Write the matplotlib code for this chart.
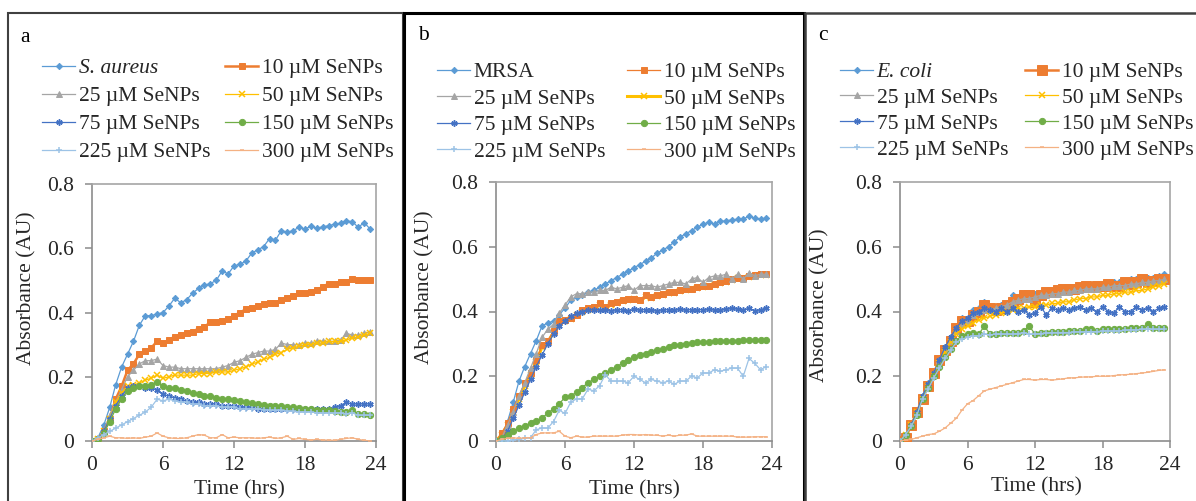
import numpy as np
import matplotlib
matplotlib.use("Agg")
import matplotlib.pyplot as plt
from matplotlib.patches import Rectangle

plt.rcParams["font.family"] = ["Liberation Serif", "DejaVu Serif"]
FS = 15.5
W, H = 1196, 501

# sampling every 30 min, 0 .. 23.5 h
hours = np.arange(48) * 0.5

conc_labels = ["10 µM SeNPs", "25 µM SeNPs", "50 µM SeNPs", "75 µM SeNPs",
               "150 µM SeNPs", "225 µM SeNPs", "300 µM SeNPs"]

# ---- panel a: S. aureus ----
a_ctrl = [0, 0.01, 0.05, 0.105, 0.175, 0.23, 0.27, 0.31, 0.36, 0.39, 0.39, 0.395,
          0.40, 0.42, 0.445, 0.43, 0.44, 0.46, 0.475, 0.485, 0.49, 0.50, 0.53, 0.52,
          0.545, 0.55, 0.56, 0.585, 0.595, 0.605, 0.63, 0.625, 0.655, 0.65, 0.655, 0.665,
          0.66, 0.668, 0.662, 0.667, 0.67, 0.675, 0.678, 0.685, 0.683, 0.665, 0.68, 0.66]
a_10 = [0, 0.005, 0.03, 0.07, 0.13, 0.17, 0.22, 0.24, 0.27, 0.28, 0.29, 0.31,
        0.305, 0.315, 0.325, 0.33, 0.335, 0.34, 0.35, 0.355, 0.37, 0.37, 0.375, 0.38,
        0.39, 0.40, 0.41, 0.415, 0.42, 0.425, 0.43, 0.43, 0.44, 0.445, 0.45, 0.46,
        0.46, 0.465, 0.47, 0.48, 0.49, 0.49, 0.495, 0.495, 0.505, 0.50, 0.50, 0.50]
a_25 = [0, 0.005, 0.03, 0.08, 0.12, 0.16, 0.20, 0.22, 0.24, 0.25, 0.25, 0.255,
        0.235, 0.23, 0.23, 0.225, 0.225, 0.225, 0.225, 0.225, 0.225, 0.225, 0.23, 0.235,
        0.245, 0.25, 0.26, 0.27, 0.275, 0.28, 0.28, 0.285, 0.305, 0.30, 0.30, 0.30,
        0.305, 0.305, 0.31, 0.31, 0.31, 0.31, 0.315, 0.335, 0.33, 0.33, 0.335, 0.34]
a_50 = [0, 0.005, 0.03, 0.07, 0.12, 0.15, 0.17, 0.175, 0.18, 0.19, 0.195, 0.205,
        0.195, 0.20, 0.205, 0.205, 0.205, 0.205, 0.21, 0.21, 0.21, 0.215, 0.215, 0.215,
        0.22, 0.225, 0.23, 0.24, 0.245, 0.255, 0.26, 0.27, 0.275, 0.285, 0.29, 0.295,
        0.30, 0.30, 0.305, 0.305, 0.31, 0.31, 0.31, 0.315, 0.32, 0.325, 0.33, 0.335]
a_75 = [0, 0.005, 0.03, 0.07, 0.11, 0.14, 0.165, 0.17, 0.17, 0.165, 0.165, 0.16,
        0.145, 0.14, 0.135, 0.13, 0.125, 0.12, 0.12, 0.115, 0.115, 0.115, 0.11, 0.11,
        0.11, 0.105, 0.105, 0.105, 0.10, 0.10, 0.10, 0.10, 0.10, 0.10, 0.10, 0.10,
        0.10, 0.10, 0.10, 0.10, 0.10, 0.105, 0.11, 0.12, 0.115, 0.115, 0.115, 0.115]
a_150 = [0, 0.005, 0.025, 0.06, 0.10, 0.13, 0.155, 0.165, 0.17, 0.17, 0.175, 0.185,
         0.17, 0.165, 0.165, 0.16, 0.155, 0.15, 0.145, 0.14, 0.14, 0.135, 0.13, 0.13,
         0.128, 0.125, 0.12, 0.118, 0.115, 0.112, 0.11, 0.11, 0.108, 0.105, 0.105, 0.102,
         0.10, 0.10, 0.098, 0.095, 0.095, 0.093, 0.09, 0.09, 0.095, 0.085, 0.083, 0.082]
a_225 = [0, 0.01, 0.02, 0.03, 0.04, 0.05, 0.06, 0.07, 0.08, 0.09, 0.105, 0.13,
         0.125, 0.13, 0.125, 0.12, 0.12, 0.115, 0.115, 0.11, 0.11, 0.11, 0.105, 0.105,
         0.105, 0.10, 0.10, 0.10, 0.10, 0.098, 0.095, 0.095, 0.095, 0.093, 0.092, 0.09,
         0.09, 0.09, 0.088, 0.087, 0.087, 0.087, 0.087, 0.085, 0.088, 0.08, 0.08, 0.08]
a_300 = [0, 0.005, 0.01, 0.015, 0.01, 0.01, 0.008, 0.01, 0.008, 0.012, 0.015, 0.025,
         0.015, 0.01, 0.008, 0.008, 0.01, 0.015, 0.02, 0.018, 0.01, 0.01, 0.02, 0.01,
         0.012, 0.01, 0.01, 0.01, 0.008, 0.01, 0.012, 0.008, 0.01, 0.015, 0.005, 0.008,
         0.005, 0.003, 0.005, 0.003, 0.003, 0.002, 0.005, 0.008, 0.01, 0.005, 0.002, 0.0]

# ---- panel b: MRSA ----
b_ctrl = [0, 0.01, 0.06, 0.12, 0.185, 0.23, 0.27, 0.31, 0.355, 0.365, 0.37, 0.39,
          0.41, 0.435, 0.445, 0.45, 0.46, 0.465, 0.475, 0.485, 0.495, 0.505, 0.515, 0.525,
          0.535, 0.545, 0.555, 0.565, 0.58, 0.59, 0.60, 0.615, 0.63, 0.64, 0.65, 0.66,
          0.67, 0.675, 0.67, 0.678, 0.68, 0.683, 0.685, 0.685, 0.695, 0.688, 0.685, 0.688]
b_10 = [0, 0.025, 0.055, 0.10, 0.14, 0.18, 0.21, 0.25, 0.295, 0.31, 0.34, 0.37,
        0.375, 0.38, 0.39, 0.405, 0.41, 0.415, 0.425, 0.415, 0.425, 0.43, 0.435, 0.44,
        0.44, 0.435, 0.45, 0.445, 0.45, 0.455, 0.46, 0.46, 0.465, 0.47, 0.47, 0.475,
        0.478, 0.48, 0.485, 0.49, 0.495, 0.50, 0.505, 0.505, 0.51, 0.512, 0.515, 0.515]
b_25 = [0, 0.01, 0.05, 0.09, 0.14, 0.18, 0.225, 0.27, 0.32, 0.345, 0.36, 0.395,
        0.42, 0.445, 0.455, 0.455, 0.46, 0.46, 0.465, 0.465, 0.475, 0.47, 0.475, 0.48,
        0.465, 0.48, 0.48, 0.48, 0.475, 0.48, 0.485, 0.49, 0.49, 0.485, 0.50, 0.505,
        0.49, 0.505, 0.51, 0.51, 0.515, 0.50, 0.515, 0.50, 0.52, 0.51, 0.515, 0.515]
b_50 = [0, 0.02, 0.05, 0.09, 0.13, 0.17, 0.205, 0.245, 0.29, 0.305, 0.335, 0.365,
        0.37, 0.378, 0.388, 0.40, 0.405, 0.41, 0.42, 0.413, 0.42, 0.427, 0.432, 0.437,
        0.438, 0.435, 0.445, 0.443, 0.448, 0.452, 0.457, 0.458, 0.462, 0.467, 0.468, 0.472,
        0.475, 0.478, 0.482, 0.487, 0.492, 0.497, 0.502, 0.503, 0.507, 0.51, 0.512, 0.513]
b_75 = [0, 0.005, 0.03, 0.07, 0.11, 0.15, 0.19, 0.23, 0.265, 0.30, 0.33, 0.355,
        0.37, 0.385, 0.395, 0.40, 0.405, 0.405, 0.405, 0.405, 0.403, 0.405, 0.405, 0.403,
        0.407, 0.405, 0.405, 0.405, 0.403, 0.405, 0.405, 0.405, 0.407, 0.405, 0.405, 0.405,
        0.405, 0.407, 0.405, 0.405, 0.408, 0.41, 0.408, 0.405, 0.41, 0.403, 0.405, 0.41]
b_150 = [0, 0.008, 0.018, 0.03, 0.04, 0.047, 0.055, 0.062, 0.072, 0.085, 0.10, 0.115,
         0.135, 0.14, 0.15, 0.165, 0.18, 0.19, 0.20, 0.21, 0.22, 0.23, 0.24, 0.25,
         0.26, 0.265, 0.27, 0.275, 0.28, 0.285, 0.29, 0.295, 0.298, 0.30, 0.302, 0.305,
         0.305, 0.307, 0.308, 0.308, 0.31, 0.31, 0.31, 0.312, 0.313, 0.312, 0.313, 0.313]
b_225 = [0, 0, 0, 0.003, 0.005, 0.008, 0.01, 0.035, 0.04, 0.04, 0.06, 0.095,
         0.085, 0.12, 0.13, 0.13, 0.16, 0.155, 0.17, 0.205, 0.185, 0.185, 0.185, 0.18,
         0.20, 0.19, 0.18, 0.19, 0.185, 0.18, 0.185, 0.175, 0.185, 0.185, 0.20, 0.195,
         0.21, 0.21, 0.22, 0.215, 0.22, 0.225, 0.225, 0.20, 0.255, 0.24, 0.22, 0.23]
b_300 = [0, 0.005, 0.008, 0.01, 0.008, 0.01, 0.01, 0.02, 0.025, 0.025, 0.025, 0.03,
         0.015, 0.01, 0.015, 0.012, 0.012, 0.015, 0.015, 0.015, 0.015, 0.015, 0.018, 0.02,
         0.02, 0.018, 0.02, 0.018, 0.018, 0.015, 0.018, 0.015, 0.018, 0.018, 0.022, 0.015,
         0.015, 0.015, 0.015, 0.015, 0.015, 0.015, 0.012, 0.012, 0.012, 0.013, 0.013, 0.013]

# ---- panel c: E. coli ----
c_ctrl = [0, 0.02, 0.05, 0.09, 0.14, 0.18, 0.21, 0.25, 0.29, 0.32, 0.35, 0.38,
          0.375, 0.405, 0.41, 0.43, 0.41, 0.41, 0.42, 0.425, 0.45, 0.44, 0.445, 0.45,
          0.455, 0.455, 0.46, 0.46, 0.465, 0.465, 0.47, 0.47, 0.475, 0.475, 0.48, 0.48,
          0.48, 0.485, 0.49, 0.49, 0.495, 0.50, 0.50, 0.50, 0.505, 0.505, 0.51, 0.515]
c_10 = [0, 0.01, 0.05, 0.09, 0.13, 0.17, 0.21, 0.25, 0.28, 0.31, 0.35, 0.37,
        0.37, 0.39, 0.40, 0.42, 0.41, 0.405, 0.41, 0.42, 0.43, 0.44, 0.45, 0.45,
        0.43, 0.45, 0.46, 0.46, 0.465, 0.47, 0.47, 0.47, 0.475, 0.48, 0.475, 0.48,
        0.48, 0.485, 0.48, 0.48, 0.49, 0.485, 0.49, 0.50, 0.49, 0.495, 0.50, 0.50]
c_25 = [0, 0.02, 0.05, 0.09, 0.14, 0.175, 0.21, 0.25, 0.285, 0.31, 0.34, 0.36,
        0.37, 0.39, 0.40, 0.405, 0.405, 0.41, 0.415, 0.42, 0.43, 0.435, 0.44, 0.44,
        0.445, 0.45, 0.45, 0.455, 0.455, 0.46, 0.46, 0.465, 0.465, 0.47, 0.47, 0.47,
        0.475, 0.475, 0.48, 0.48, 0.48, 0.485, 0.485, 0.49, 0.49, 0.495, 0.495, 0.50]
c_50 = [0, 0.02, 0.05, 0.09, 0.13, 0.17, 0.205, 0.24, 0.275, 0.305, 0.33, 0.345,
        0.355, 0.365, 0.375, 0.38, 0.385, 0.39, 0.395, 0.40, 0.405, 0.41, 0.41, 0.415,
        0.415, 0.42, 0.42, 0.425, 0.425, 0.43, 0.43, 0.435, 0.44, 0.44, 0.445, 0.445,
        0.45, 0.45, 0.455, 0.455, 0.46, 0.46, 0.465, 0.465, 0.47, 0.475, 0.48, 0.485]
c_75 = [0, 0.02, 0.05, 0.09, 0.14, 0.175, 0.21, 0.25, 0.29, 0.32, 0.35, 0.37,
        0.38, 0.395, 0.40, 0.41, 0.405, 0.40, 0.41, 0.40, 0.41, 0.40, 0.405, 0.39,
        0.395, 0.415, 0.39, 0.41, 0.405, 0.41, 0.405, 0.41, 0.415, 0.405, 0.41, 0.40,
        0.415, 0.40, 0.395, 0.415, 0.40, 0.40, 0.415, 0.405, 0.41, 0.40, 0.41, 0.415]
c_150 = [0, 0.02, 0.045, 0.08, 0.13, 0.165, 0.20, 0.23, 0.26, 0.285, 0.31, 0.325,
         0.33, 0.335, 0.33, 0.355, 0.33, 0.33, 0.335, 0.335, 0.335, 0.335, 0.34, 0.355,
         0.33, 0.335, 0.335, 0.338, 0.338, 0.338, 0.34, 0.34, 0.34, 0.345, 0.345, 0.34,
         0.345, 0.345, 0.345, 0.345, 0.345, 0.35, 0.35, 0.35, 0.36, 0.35, 0.35, 0.35]
c_225 = [0, 0.02, 0.045, 0.08, 0.13, 0.16, 0.195, 0.225, 0.255, 0.28, 0.305, 0.315,
         0.32, 0.325, 0.325, 0.33, 0.328, 0.33, 0.33, 0.33, 0.33, 0.332, 0.335, 0.33,
         0.33, 0.332, 0.333, 0.335, 0.335, 0.335, 0.335, 0.337, 0.337, 0.338, 0.338, 0.338,
         0.34, 0.34, 0.34, 0.34, 0.342, 0.343, 0.343, 0.345, 0.345, 0.345, 0.345, 0.345]
c_300 = [0, 0.002, 0.005, 0.01, 0.015, 0.02, 0.022, 0.03, 0.04, 0.055, 0.07, 0.095,
         0.115, 0.125, 0.14, 0.155, 0.16, 0.165, 0.17, 0.175, 0.18, 0.185, 0.19, 0.19,
         0.188, 0.19, 0.19, 0.188, 0.19, 0.192, 0.195, 0.195, 0.197, 0.198, 0.198, 0.20,
         0.20, 0.20, 0.202, 0.204, 0.205, 0.206, 0.208, 0.21, 0.212, 0.215, 0.218, 0.22]

colors = ["#5b9bd5", "#ed7d31", "#a5a5a5", "#ffc000",
          "#4472c4", "#70ad47", "#9dc3e6", "#f4b183"]
markers = ["D", "s", "^", "x", (6, 2, 0), "o", "+", "_"]
msizes = [3.2, 4.5, 4.5, 4, 4.5, 4.5, 4.5, 3.5]

panels = [
    dict(letter="a", ctrl="S. aureus",
         series=[a_ctrl, a_10, a_25, a_50, a_75, a_150, a_225, a_300],
         ax=(92, 376, 184, 441), frame=(8, 403, "#404040", 1.5),
         leg=(42, 225, 58, 0.37), ylab=(27, 288), xlab=(239, 490), let=(25, 38)),
    dict(letter="b", ctrl="MRSA",
         series=[b_ctrl, b_10, b_25, b_50, b_75, b_150, b_225, b_300],
         ax=(496, 772, 182, 441), frame=(404, 804, "black", 2.2),
         leg=(437, 627, 62, 0.3), ylab=(425, 287), xlab=(634, 490), let=(423, 35)),
    dict(letter="c", ctrl="E. coli",
         series=[c_ctrl, c_10, c_25, c_50, c_75, c_150, c_225, c_300],
         ax=(900, 1170, 182, 441), frame=(805, 1200, "#404040", 1.8),
         leg=(840, 1025, 62, 0.27), ylab=(820, 305), xlab=(1036, 487), let=(823, 35)),
]

fig = plt.figure(figsize=(W / 100, H / 100), dpi=100)

for p in panels:
    x0, x1, y0, y1 = p["ax"]
    ax = fig.add_axes([x0 / W, 1 - y1 / H, (x1 - x0) / W, (y1 - y0) / H])

    fl, fr, fc, fw = p["frame"]
    fig.add_artist(Rectangle((fl / W, -0.05), (fr - fl) / W, 1.05 - 13 / H,
                             transform=fig.transFigure, fill=False,
                             edgecolor=fc, linewidth=fw, clip_on=False))

    labels = [p["ctrl"]] + conc_labels
    handles = []
    for i, vals in enumerate(p["series"]):
        lw, ms, z = 0.9, msizes[i], 2 + i
        if i == 1 and p["letter"] in ("a", "c"):
            lw = 1.8
        if i == 1 and p["letter"] == "c":
            ms = 6.5
        if i == 3 and p["letter"] == "b":
            lw, z = 2.2, 1.5
        mew = 1.1 if markers[i] in ("x", "+", "_", (6, 2, 0)) else 0.7
        h, = ax.plot(hours, vals, color=colors[i], marker=markers[i],
                     markersize=ms, linewidth=lw, markeredgewidth=mew,
                     zorder=z, label=labels[i])
        handles.append(h)

    ax.set_xlim(0, 24)
    ax.set_ylim(0, 0.8)
    ax.set_xticks([0, 6, 12, 18, 24])
    ax.set_yticks([0, 0.2, 0.4, 0.6, 0.8])
    ax.set_yticklabels(["0", "0.2", "0.4", "0.6", "0.8"])
    for side in ("left", "bottom"):
        ax.spines[side].set_color("#8c8c8c")
        ax.spines[side].set_linewidth(1.2)
    for side in ("top", "right"):
        ax.spines[side].set_color("#a6a6a6")
        ax.spines[side].set_linewidth(1.2)
    ax.tick_params(axis="both", direction="out", length=5, width=1.1,
                   color="#8c8c8c", labelsize=FS, labelcolor="#262626")
    ax.tick_params(axis="y", pad=8)
    ax.tick_params(axis="x", pad=6)

    lx1, lx2, ltop, lsp = p["leg"]
    legs = []
    for hs, lx in ((handles[0::2], lx1), (handles[1::2], lx2)):
        leg = ax.legend(handles=hs, loc="upper left",
                        bbox_to_anchor=(lx / W, 1 - ltop / H),
                        bbox_transform=fig.transFigure, frameon=False,
                        fontsize=FS, handlelength=1.55, handletextpad=0.15,
                        borderpad=0, borderaxespad=0, labelspacing=lsp,
                        labelcolor="#262626")
        legs.append(leg)
    # the last ax.legend call stays as ax.legend_; add the first one explicitly
    ax.add_artist(legs[0])
    if p["letter"] != "b":
        legs[0].get_texts()[0].set_fontstyle("italic")

    fig.text(p["ylab"][0] / W, 1 - p["ylab"][1] / H, "Absorbance (AU)",
             rotation=90, ha="center", va="center", fontsize=FS, color="#262626")
    fig.text(p["xlab"][0] / W, 1 - p["xlab"][1] / H, "Time (hrs)",
             ha="center", va="center", fontsize=FS, color="#262626")
    fig.text(p["let"][0] / W, 1 - p["let"][1] / H, p["letter"],
             ha="center", va="center", fontsize=FS, color="black")

fig.savefig("out.png", dpi=100)
